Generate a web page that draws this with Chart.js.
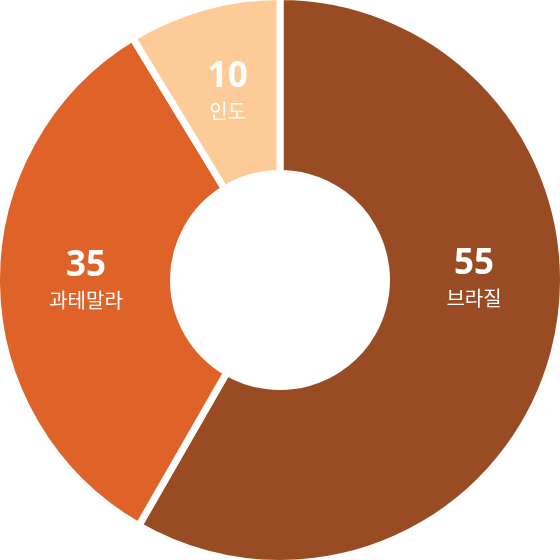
<!DOCTYPE html>
<html>
<head>
<meta charset="utf-8">
<script src="https://cdn.jsdelivr.net/npm/chart.js@4/dist/chart.umd.min.js"></script>
<style>
  html, body { margin: 0; padding: 0; background: #ffffff; overflow: hidden; width: 560px; height: 560px; }
  #wrap { position: relative; width: 560px; height: 560px; overflow: hidden; }
  #c { position: absolute; left: -7px; top: -7px; }
</style>
</head>
<body>
<div id="wrap"><canvas id="c" width="574" height="574"></canvas></div>
<script>
// Categories and the values printed on each slice
const categories = ['브라질', '과테말라', '인도'];
const shownValues = [55, 35, 10];
// Share of the circle each slice covers (percent)
const arcShares = [58.3, 33.0, 8.7];
const colors = ['#994C24', '#DF6228', '#FDCB98'];

const sliceLabels = {
  id: 'sliceLabels',
  afterDatasetsDraw(chart) {
    const ctx = chart.ctx;
    const meta = chart.getDatasetMeta(0);
    meta.data.forEach((arc, i) => {
      const p = arc.getProps(['x', 'y', 'startAngle', 'endAngle', 'innerRadius', 'outerRadius'], true);
      // clock angles, 0 at top
      let s = p.startAngle + Math.PI / 2, e = p.endAngle + Math.PI / 2;
      const m = (s + e) / 2;
      if (m < Math.PI) { s = Math.max(s, 0); e = Math.min(e, Math.PI); }
      else { s = Math.max(s, Math.PI); e = Math.min(e, 2 * Math.PI); }
      const a = (s + e) / 2;
      const r = 194;
      const cx = p.x + r * Math.sin(a);
      const cy = p.y - r * Math.cos(a);
      ctx.save();
      ctx.fillStyle = '#ffffff';
      ctx.textAlign = 'center';
      ctx.textBaseline = 'alphabetic';
      ctx.font = 'bold 35px "Open Sans", "Noto Sans", sans-serif';
      ctx.fillText(String(shownValues[i]), cx, cy - 6);
      ctx.font = '20px "Noto Sans CJK KR", sans-serif';
      ctx.fillText(categories[i], cx, cy + 26);
      ctx.restore();
    });
  }
};

new Chart(document.getElementById('c'), {
  type: 'doughnut',
  data: {
    labels: categories,
    datasets: [{
      data: arcShares,
      backgroundColor: colors,
      borderColor: '#ffffff',
      borderWidth: 7,
      hoverOffset: 0
    }]
  },
  options: {
    responsive: false,
    animation: false,
    cutout: 106.5,
    layout: { padding: 0 },
    plugins: {
      legend: { display: false },
      tooltip: { enabled: false }
    }
  },
  plugins: [sliceLabels]
});
</script>
</body>
</html>
